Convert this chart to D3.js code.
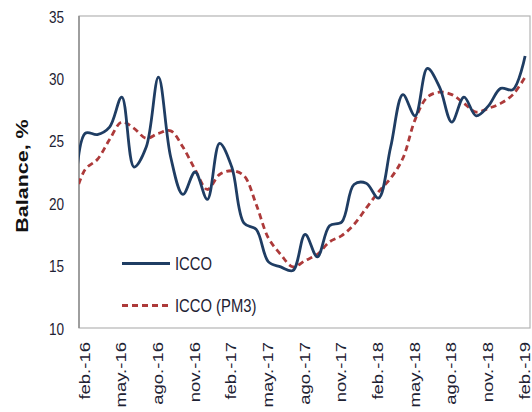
<!DOCTYPE html>
<html>
<head>
<meta charset="utf-8">
<script src="https://cdn.jsdelivr.net/npm/d3@7"></script>
<style>
  html, body { margin: 0; padding: 0; background: #ffffff; }
  svg { display: block; }
  text { font-family: "Liberation Sans", Arial, sans-serif; }
</style>
</head>
<body>
<div id="chart"></div>
<script>
// ---- data ----
const months = ["ene.-16","feb.-16","mar.-16","abr.-16","may.-16","jun.-16","jul.-16","ago.-16","sep.-16","oct.-16","nov.-16","dic.-16",
                "ene.-17","feb.-17","mar.-17","abr.-17","may.-17","jun.-17","jul.-17","ago.-17","sep.-17","oct.-17","nov.-17","dic.-17",
                "ene.-18","feb.-18","mar.-18","abr.-18","may.-18","jun.-18","jul.-18","ago.-18","sep.-18","oct.-18","nov.-18","dic.-18",
                "ene.-19","feb.-19"];
const icco = [15.8, 25.6, 25.5, 26.1, 28.5, 22.9, 24.5, 30.1, 23.7, 20.7, 22.5, 20.3,
              24.8, 22.9, 18.4, 17.9, 15.3, 14.9, 14.6, 17.5, 15.7, 18.2, 18.5, 21.5,
              21.6, 20.4, 24.5, 28.7, 27.0, 30.8, 29.3, 26.5, 28.5, 27.0, 27.8, 29.2,
              29.1, 31.8];
const iccoPM3 = [20.0, 22.7, 23.5, 25.1, 26.5, 26.0, 25.2, 25.6, 25.8, 24.5, 22.7, 21.1,
                 22.3, 22.6, 22.2, 19.9, 17.2, 15.9, 14.9, 15.4, 15.9, 16.9, 17.4, 18.3,
                 19.6, 20.9, 22.0, 23.6, 26.7, 28.5, 28.9, 28.7, 28.0, 27.3, 27.6, 28.0,
                 28.7, 30.1];
const xTickLabels = ["feb.-16","may.-16","ago.-16","nov.-16","feb.-17","may.-17","ago.-17",
                     "nov.-17","feb.-18","may.-18","ago.-18","nov.-18","feb.-19"];
const yTicks = [10, 15, 20, 25, 30, 35];
const seriesNames = ["ICCO", "ICCO (PM3)"];
const yTitle = "Balance, %";

// ---- layout ----
const W = 532, H = 412;
const plot = { left: 79, right: 530, top: 16, bottom: 328 };
const textColor = "#1e2233";
const navy = "#1f3d63";
const red = "#ad3a3a";
const sx = 0.8; // horizontal text compression seen in the reference

const svg = d3.select("#chart").append("svg")
  .attr("width", W).attr("height", H);

const firstIdx = months.indexOf("feb.-16");
const x = d3.scaleLinear()
  .domain([firstIdx - 0.5, firstIdx + 36.4])
  .range([plot.left, plot.right]);
const y = d3.scaleLinear().domain([10, 35]).range([plot.bottom, plot.top]);

// clip
svg.append("defs").append("clipPath").attr("id", "clip")
  .append("rect")
  .attr("x", plot.left).attr("y", plot.top - 5)
  .attr("width", plot.right - plot.left).attr("height", plot.bottom - plot.top + 10);

// frame
svg.append("rect")
  .attr("x", plot.left).attr("y", plot.top)
  .attr("width", plot.right - plot.left).attr("height", plot.bottom - plot.top)
  .attr("fill", "none").attr("stroke", "#b4b4b4").attr("stroke-width", 1.2);
svg.append("line")
  .attr("x1", plot.left).attr("x2", plot.left)
  .attr("y1", plot.top).attr("y2", plot.bottom)
  .attr("stroke", "#8c8c8c").attr("stroke-width", 1.5);

// y axis
const yAxis = svg.append("g")
  .attr("transform", `translate(${plot.left},0)`)
  .call(d3.axisLeft(y).tickValues(yTicks).tickSize(0).tickFormat(d3.format("d")));
yAxis.select(".domain").remove();
yAxis.selectAll("text")
  .attr("x", 0).attr("dy", "0.36em")
  .attr("transform", `translate(-15,0) scale(${sx},1)`)
  .attr("text-anchor", "end")
  .attr("fill", textColor)
  .style("font-size", "17px");

// x axis
const tickIdx = xTickLabels.map(l => months.indexOf(l));
const xAxis = svg.append("g")
  .attr("transform", `translate(0,${plot.bottom})`)
  .call(d3.axisBottom(x).tickValues(tickIdx).tickSize(0).tickFormat(i => months[i]));
xAxis.select(".domain").remove();
xAxis.selectAll("text")
  .attr("x", 0).attr("y", 0).attr("dy", "0.28em")
  .attr("transform", `translate(0,14) scale(${sx},1) rotate(-90)`)
  .attr("text-anchor", "end")
  .attr("fill", textColor)
  .style("font-size", "18.5px");

// y title
svg.append("text")
  .attr("transform", `translate(21.5,176) scale(${sx},1) rotate(-90)`)
  .attr("text-anchor", "middle")
  .attr("dy", "0.35em")
  .style("font-size", "21.5px")
  .style("font-weight", "bold")
  .attr("fill", "#111")
  .text(yTitle);

// lines
const line = d3.line()
  .x((d, i) => x(i))
  .y(d => y(d))
  .curve(d3.curveCatmullRom.alpha(0.5));

const g = svg.append("g").attr("clip-path", "url(#clip)");
g.append("path").datum(iccoPM3)
  .attr("d", line)
  .attr("fill", "none").attr("stroke", red)
  .attr("stroke-width", 2.8).attr("stroke-dasharray", "6,4");
g.append("path").datum(icco)
  .attr("d", line)
  .attr("fill", "none").attr("stroke", navy)
  .attr("stroke-width", 2.8).attr("stroke-linejoin", "round");

// legend
const legend = svg.append("g");
const legItems = [
  { name: seriesNames[0], color: navy, dash: null, y: 263.5 },
  { name: seriesNames[1], color: red, dash: "6,4", y: 305.5 }
];
legItems.forEach(it => {
  legend.append("line")
    .attr("x1", 122).attr("x2", 170)
    .attr("y1", it.y).attr("y2", it.y)
    .attr("stroke", it.color).attr("stroke-width", 2.8)
    .attr("stroke-dasharray", it.dash);
  legend.append("text")
    .attr("transform", `translate(175,${it.y}) scale(${sx},1)`)
    .attr("dy", "0.36em")
    .attr("fill", textColor)
    .style("font-size", "18.5px")
    .text(it.name);
});
</script>
</body>
</html>
